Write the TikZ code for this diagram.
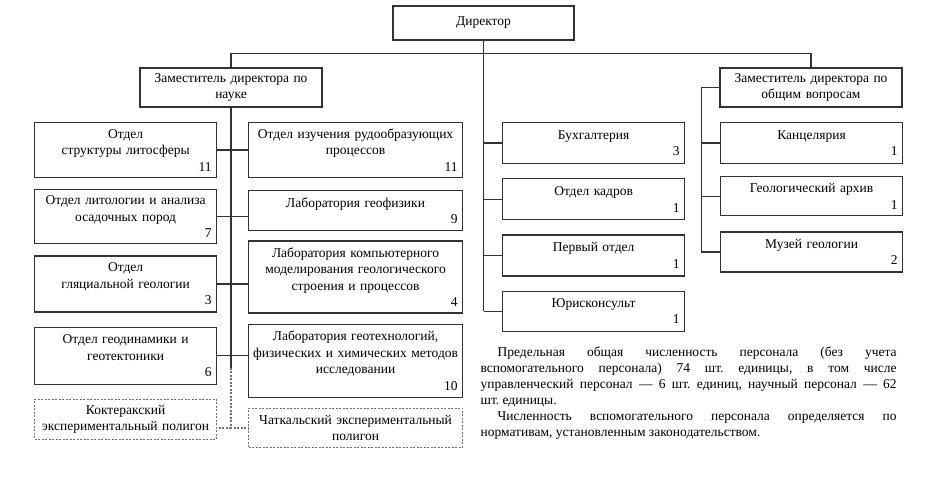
\documentclass[tikz,border=0pt]{standalone}
\usepackage{fontspec}
\setmainfont{Liberation Serif}
\usepackage{tikz}
\usetikzlibrary{positioning}

\newcommand{\staff}[1]{\\\makebox[\hsize][r]{#1}}

\begin{document}
\frenchspacing
\begin{tikzpicture}[x=1pt,y=-1pt,node distance=12pt,line width=1.2pt]
\tikzstyle{unit}=[draw=black!80,inner xsep=5pt,inner ysep=3pt,align=center,
font=\fontsize{13.5pt}{16.5pt}\selectfont]
\tikzstyle{side}=[unit,text width=172pt]
\tikzstyle{wide}=[unit,text width=204pt]
\tikzstyle{field}=[draw=black!55,dash pattern=on 2pt off 1.5pt]
\tikzstyle{link}=[draw=black!80]
\tikzstyle{dlink}=[draw=black!55,dash pattern=on 2pt off 1.5pt]

\useasboundingbox (0,0) rectangle (939,481);

\node[unit,minimum width=181pt,minimum height=34pt] (Dir) at (483.5,23) {Директор};
\node[side,minimum height=39pt] (ZN) at (231,87.5) {Заместитель директора по\\науке};
\node[side,minimum height=39pt] (ZO) at (811,87.5) {Заместитель директора по\\общим вопросам};

% left column
\node[side,minimum height=55pt,anchor=north west] (L1) at (34,122) {Отдел\\структуры литосферы\staff{11}};
\node[side,minimum height=54pt] (L2) [below=11pt of L1] {Отдел литологии и анализа\\осадочных пород\staff{7}};
\node[side,minimum height=56pt] (L3) [below=11pt of L2] {Отдел\\гляциальной геологии\staff{3}};
\node[side,minimum height=57pt] (L4) [below=14pt of L3] {Отдел геодинамики и\\геотектоники\staff{6}};
\node[side,field,minimum height=40pt] (P1) [below=14pt of L4] {Коктеракский\\экспериментальный полигон};

% right column
\node[wide,minimum height=55pt,anchor=north west] (R1) at (248,122) {Отдел изучения рудообразующих\\процессов\staff{11}};
\node[wide,minimum height=40pt] (R2) [below=12pt of R1] {Лаборатория геофизики\staff{9}};
\node[wide,minimum height=72pt] (R3) [below=9pt of R2] {Лаборатория компьютерного\\моделирования геологического\\строения и процессов\staff{4}};
\node[wide,minimum height=73pt] (R4) [below=10pt of R3] {Лаборатория геотехнологий,\\\makebox[\hsize]{физических и химических методов}\\исследовании\staff{10}};
\node[wide,field,minimum height=39pt] (P2) [below=10pt of R4] {Чаткальский экспериментальный\\полигон};

% director
\node[side,minimum height=41pt,anchor=north west] (B1) at (502,122) {Бухгалтерия\staff{3}};
\node[side,minimum height=41pt] (B2) [below=14pt of B1] {Отдел кадров\staff{1}};
\node[side,minimum height=41pt] (B3) [below=14pt of B2] {Первый отдел\staff{1}};
\node[side,minimum height=40pt] (B4) [below=14pt of B3] {Юрисконсульт\staff{1}};

% general
\node[side,minimum height=41pt,anchor=north west] (O1) at (720,122) {Канцелярия\staff{1}};
\node[side,minimum height=39pt] (O2) [below=12pt of O1] {Геологический архив\staff{1}};
\node[side,minimum height=40pt] (O3) [below=15pt of O2] {Музей геологии\staff{2}};

\node[text width=416pt,align=justify,inner sep=0pt,anchor=north west,
font=\fontsize{13.5pt}{16pt}\selectfont] (T) at (480,346)
{\noindent\hspace*{17pt}Предельная общая численность персонала (без учета\linebreak
вспомогательного персонала) 74 шт. единицы, в том числе\linebreak
управленческий персонал — 6 шт. единиц, научный персонал — 62\linebreak
шт. единицы.\par
\noindent\hspace*{17pt}Численность вспомогательного персонала определяется по\linebreak
нормативам, установленным законодательством.};

\path (ZN.south |- L4.south) ++(0,-17) coordinate (zn);
\coordinate (zo) at ([xshift=-18pt]ZO.west);

\draw[link] (Dir.south) -- (Dir.south |- B4.west);
\draw[link] (ZN.north) -- ++(0,-14) -| (ZO.north);
\draw[link] (ZN.south) -- (zn);
\draw[dlink] (zn) -- (zn |- P2.west) -- (P2.west);
\draw[dlink] (zn |- P2.west) -- (P1.east |- P2.west);

\draw[link] (L1.east) -- (L1.east -| R1.west);
\draw[link] (L2.east) -- (L2.east -| R2.west);
\draw[link] (L3.east) -- (L3.east -| R3.west);
\draw[link] (L4.east) -- (L4.east -| R4.west);

\draw[link] (Dir.south |- B1.west) -- (B1.west);
\draw[link] (Dir.south |- B2.west) -- (B2.west);
\draw[link] (Dir.south |- B3.west) -- (B3.west);
\draw[link] (Dir.south |- B4.west) -- (B4.west);

\draw[link] (ZO.west) -- (zo) -- (zo |- O3.west) -- (O3.west);
\draw[link] (zo |- O1.west) -- (O1.west);
\draw[link] (zo |- O2.west) -- (O2.west);
\end{tikzpicture}
\end{document}
